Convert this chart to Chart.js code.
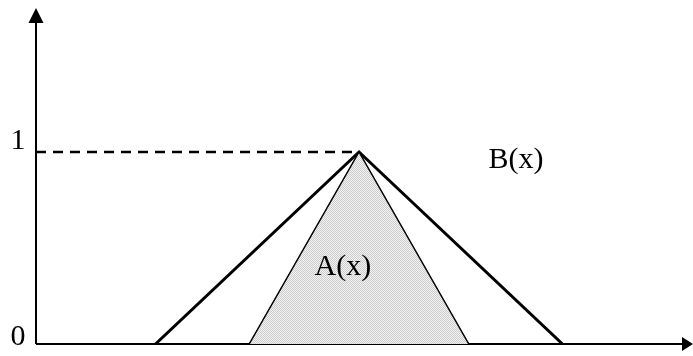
<!DOCTYPE html>
<html>
<head>
<meta charset="utf-8">
<script src="https://cdn.jsdelivr.net/npm/chart.js@4/dist/chart.umd.min.js"></script>
<style>
html,body{margin:0;padding:0;background:#fff;}
#wrap{width:693px;height:356px;position:relative;}
</style>
</head>
<body>
<div id="wrap"><canvas id="c"></canvas></div>
<script>
// Data
const seriesA_x = [3.3, 5, 6.7];
const seriesA_y = [0, 1, 0];
const seriesB_x = [1.85, 5, 8.15];
const seriesB_y = [0, 1, 0];
const levelLine_x = [0, 5];
const levelLine_y = [1, 1];
const tickLabels = ['0', '1'];
const tickValues = [0, 1];
const seriesLabels = ['A(x)', 'B(x)'];
const labelPos_x = [4.75, 7.43];
const labelPos_y = [0.40, 0.96];

const X_MIN = 0, X_MAX = 10.17, Y_MIN = 0, Y_MAX = 1.75;

function pts(xs, ys){ return xs.map((x,i)=>({x:x, y:ys[i]})); }

// stipple pattern for the grey fill
const pc = document.createElement('canvas');
pc.width = 2; pc.height = 2;
const pctx = pc.getContext('2d');
pctx.fillStyle = '#f4f4f4'; pctx.fillRect(0,0,2,2);
pctx.fillStyle = '#cbcbcb'; pctx.fillRect(0,0,1,1); pctx.fillRect(1,1,1,1);
const pattern = pctx.createPattern(pc, 'repeat');

const FONT = "30px 'Liberation Serif', 'Times New Roman', serif";

const axesPlugin = {
  id: 'axesPlugin',
  beforeDatasetsDraw(chart){
    const ctx = chart.ctx, xs = chart.scales.x, ys = chart.scales.y;
    const x0 = xs.getPixelForValue(X_MIN), y0 = ys.getPixelForValue(0);
    const yTop = ys.getPixelForValue(Y_MAX), xRight = xs.getPixelForValue(X_MAX);
    ctx.save();
    ctx.strokeStyle = '#000'; ctx.fillStyle = '#000'; ctx.lineWidth = 2;
    ctx.beginPath();
    ctx.moveTo(x0, y0); ctx.lineTo(x0, yTop + 12);
    ctx.moveTo(x0, y0); ctx.lineTo(xRight - 8, y0);
    ctx.stroke();
    // arrows
    ctx.beginPath();
    ctx.moveTo(x0, yTop); ctx.lineTo(x0 - 7.5, yTop + 15); ctx.lineTo(x0 + 7.5, yTop + 15); ctx.closePath();
    ctx.fill();
    ctx.beginPath();
    ctx.moveTo(xRight, y0); ctx.lineTo(xRight - 11, y0 - 7); ctx.lineTo(xRight - 11, y0 + 7); ctx.closePath();
    ctx.fill();
    ctx.restore();
  },
  afterDraw(chart){
    const ctx = chart.ctx, xs = chart.scales.x, ys = chart.scales.y;
    ctx.save();
    ctx.fillStyle = '#000';
    ctx.font = FONT;
    ctx.textAlign = 'center'; ctx.textBaseline = 'middle';
    const tickOffsets = [-7, -11];
    tickValues.forEach((v,i)=>{
      ctx.fillText(tickLabels[i], 18, ys.getPixelForValue(v) + tickOffsets[i]);
    });
    seriesLabels.forEach((t,i)=>{
      ctx.fillText(t, xs.getPixelForValue(labelPos_x[i]), ys.getPixelForValue(labelPos_y[i]));
    });
    ctx.restore();
  }
};

new Chart(document.getElementById('c'), {
  type: 'scatter',
  data: {
    datasets: [
      { data: pts(seriesA_x, seriesA_y), showLine: true, fill: 'origin',
        backgroundColor: pattern, borderColor: '#000', borderWidth: 1.5,
        pointRadius: 0, tension: 0 },
      { data: pts([seriesA_x[0], seriesA_x[2]], [0, 0]), showLine: true, fill: false,
        borderColor: '#000', borderWidth: 3.5, pointRadius: 0 },
      { data: pts(seriesB_x, seriesB_y), showLine: true, fill: false,
        borderColor: '#000', borderWidth: 3, pointRadius: 0, tension: 0,
        borderJoinStyle: 'miter' },
      { data: pts(levelLine_x, levelLine_y), showLine: true, fill: false,
        borderColor: '#000', borderWidth: 2.5, borderDash: [10, 7], pointRadius: 0 }
    ]
  },
  options: {
    responsive: true, maintainAspectRatio: false, animation: false,
    layout: { padding: { left: 36, right: 0, top: 8, bottom: 12 } },
    plugins: { legend: { display: false }, tooltip: { enabled: false } },
    scales: {
      x: { type: 'linear', min: X_MIN, max: X_MAX, display: false },
      y: { type: 'linear', min: Y_MIN, max: Y_MAX, display: false }
    }
  },
  plugins: [axesPlugin]
});
</script>
</body>
</html>
